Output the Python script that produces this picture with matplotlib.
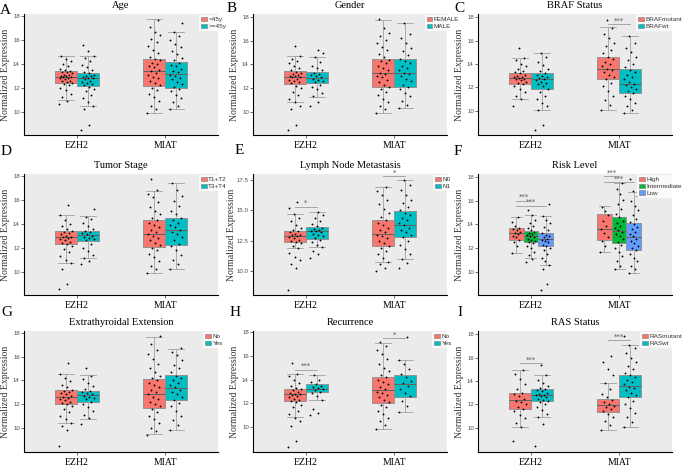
import matplotlib
matplotlib.use('Agg')
import matplotlib.pyplot as plt
from matplotlib.patches import Patch
import numpy as np

SERIF = 'Liberation Serif'
SANS = 'Liberation Sans'

genes = ['EZH2', 'MIAT']
RED, CYAN, GREEN, BLUE = '#F8766D', '#00BFC4', '#00BA38', '#619CFF'

# ---------------- data (box stats: whisker low, Q1, median, Q3, whisker high) ----------------
# order of boxes: EZH2-level1, EZH2-level2(, EZH2-level3), MIAT-level1, MIAT-level2(, MIAT-level3)
age_levels = ['<45y', '>=45y']
age_box = [[10.94, 12.42, 12.94, 13.44, 14.70], [10.50, 12.14, 12.78, 13.22, 14.70],
           [9.86, 12.17, 13.39, 14.44, 17.72], [10.22, 11.97, 13.11, 14.14, 16.69]]
age_points = [
    [10.6, 10.9, 11.2, 11.5, 11.8, 12.0, 12.2, 12.3, 12.4, 12.5, 12.6, 12.6, 12.7, 12.8, 12.8, 12.9, 12.9, 13.0, 13.0, 13.1, 13.1, 13.2, 13.3, 13.3, 13.4, 13.5, 13.6, 13.8, 14.0, 14.2, 14.4, 14.7],
    [8.5, 8.9, 10.2, 10.5, 10.8, 11.1, 11.4, 11.7, 11.9, 12.1, 12.2, 12.3, 12.4, 12.5, 12.6, 12.7, 12.8, 12.8, 12.9, 13.0, 13.0, 13.1, 13.2, 13.3, 13.5, 13.7, 13.9, 14.2, 14.5, 14.7, 15.1, 15.6],
    [9.9, 10.2, 10.5, 10.9, 11.2, 11.5, 11.8, 12.0, 12.2, 12.4, 12.6, 12.8, 12.9, 13.1, 13.2, 13.4, 13.5, 13.7, 13.8, 14.0, 14.1, 14.3, 14.4, 14.6, 14.9, 15.2, 15.5, 15.8, 16.1, 16.4, 16.7, 17.1, 17.7],
    [10.2, 10.5, 10.8, 11.1, 11.4, 11.7, 11.9, 12.1, 12.3, 12.5, 12.7, 12.8, 13.0, 13.1, 13.3, 13.4, 13.6, 13.8, 13.9, 14.1, 14.3, 14.5, 14.8, 15.1, 15.4, 15.7, 16.0, 16.3, 16.7, 17.4]]
age_sig = []

gender_levels = ['FEMALE', 'MALE']
gender_box = [[10.80, 12.36, 12.94, 13.42, 14.70], [11.25, 12.42, 12.89, 13.36, 14.60],
              [9.86, 12.11, 13.31, 14.42, 17.75], [10.28, 12.11, 13.31, 14.42, 17.47]]
gender_points = [
    [8.5, 8.9, 10.2, 10.5, 10.8, 11.1, 11.4, 11.7, 12.0, 12.2, 12.4, 12.5, 12.6, 12.7, 12.8, 12.9, 12.9, 13.0, 13.0, 13.1, 13.2, 13.3, 13.4, 13.5, 13.7, 13.9, 14.1, 14.3, 14.5, 14.7, 15.6],
    [10.5, 10.8, 11.3, 11.6, 11.9, 12.1, 12.3, 12.5, 12.6, 12.7, 12.8, 12.9, 13.0, 13.1, 13.2, 13.3, 13.5, 13.7, 13.9, 14.2, 14.6, 15.0, 15.2],
    [9.9, 10.2, 10.5, 10.8, 11.1, 11.4, 11.7, 11.9, 12.1, 12.3, 12.5, 12.7, 12.9, 13.0, 13.2, 13.3, 13.5, 13.7, 13.9, 14.1, 14.3, 14.4, 14.6, 14.9, 15.2, 15.5, 15.8, 16.1, 16.4, 16.7, 17.1, 17.8],
    [10.3, 10.6, 10.9, 11.3, 11.6, 11.9, 12.1, 12.3, 12.6, 12.8, 13.0, 13.2, 13.3, 13.5, 13.7, 13.9, 14.1, 14.3, 14.5, 14.8, 15.1, 15.4, 15.8, 16.2, 16.6, 17.5]]
gender_sig = []

braf_levels = ['BRAFmutant', 'BRAFwt']
braf_box = [[10.97, 12.31, 12.78, 13.22, 14.53], [10.06, 11.86, 12.69, 13.19, 14.94],
            [10.06, 12.69, 13.61, 14.56, 17.14], [9.81, 11.56, 12.28, 13.56, 16.39]]
braf_points = [
    [10.4, 11.0, 11.3, 11.6, 11.9, 12.1, 12.3, 12.4, 12.5, 12.6, 12.7, 12.7, 12.8, 12.9, 12.9, 13.0, 13.1, 13.2, 13.3, 13.4, 13.6, 13.8, 14.0, 14.3, 14.5, 15.4],
    [8.4, 8.8, 10.1, 10.4, 10.7, 11.0, 11.3, 11.6, 11.9, 12.1, 12.3, 12.4, 12.5, 12.6, 12.7, 12.8, 12.9, 13.0, 13.1, 13.2, 13.4, 13.6, 13.9, 14.2, 14.6, 14.9],
    [10.1, 10.5, 10.9, 11.3, 11.7, 12.1, 12.4, 12.7, 12.9, 13.1, 13.3, 13.5, 13.6, 13.8, 14.0, 14.2, 14.4, 14.6, 14.9, 15.2, 15.5, 15.8, 16.2, 16.6, 17.1, 17.8],
    [9.8, 10.1, 10.4, 10.7, 11.0, 11.3, 11.5, 11.7, 11.9, 12.0, 12.2, 12.3, 12.5, 12.7, 12.9, 13.1, 13.3, 13.5, 13.7, 14.0, 14.3, 14.6, 15.0, 15.4, 15.8, 16.4]]
braf_sig = [[1, 0, 1, 17.42, '***']]

stage_levels = ['T1+T2', 'T3+T4']
stage_box = [[10.72, 12.29, 12.90, 13.37, 14.69], [11.13, 12.57, 13.03, 13.37, 14.61],
             [9.89, 12.07, 13.12, 14.30, 16.76], [10.22, 12.23, 13.45, 14.52, 17.39]]
stage_points = [
    [8.5, 9.0, 10.2, 10.7, 11.0, 11.3, 11.6, 11.9, 12.1, 12.3, 12.4, 12.5, 12.6, 12.7, 12.8, 12.9, 12.9, 13.0, 13.1, 13.2, 13.3, 13.4, 13.6, 13.8, 14.0, 14.3, 14.7, 15.6],
    [10.6, 10.9, 11.1, 11.4, 11.7, 12.0, 12.3, 12.6, 12.7, 12.8, 12.9, 13.0, 13.1, 13.2, 13.3, 13.4, 13.6, 13.8, 14.1, 14.4, 14.6, 15.2],
    [9.9, 10.2, 10.5, 10.9, 11.2, 11.5, 11.8, 12.0, 12.2, 12.4, 12.6, 12.8, 13.0, 13.1, 13.3, 13.5, 13.7, 13.9, 14.1, 14.3, 14.5, 14.8, 15.1, 15.4, 15.8, 16.2, 16.5, 16.8, 17.7],
    [10.2, 10.6, 11.0, 11.4, 11.8, 12.1, 12.3, 12.6, 12.9, 13.1, 13.3, 13.5, 13.7, 13.9, 14.1, 14.3, 14.5, 14.8, 15.1, 15.5, 15.9, 16.3, 16.8, 17.4]]
stage_sig = []

lymph_levels = ['N0', 'N1']
lymph_box = [[11.88, 12.39, 12.92, 13.35, 14.69], [11.96, 12.68, 13.29, 13.64, 14.85],
             [10.75, 12.09, 13.08, 14.23, 16.91], [11.02, 12.81, 13.83, 14.93, 17.55]]
lymph_points = [
    [8.5, 10.3, 10.6, 10.9, 11.2, 11.5, 11.9, 12.1, 12.3, 12.4, 12.5, 12.6, 12.7, 12.8, 12.9, 13.0, 13.0, 13.1, 13.2, 13.3, 13.4, 13.6, 13.8, 14.1, 14.4, 14.7, 15.2, 15.7],
    [11.1, 11.4, 11.7, 12.0, 12.2, 12.4, 12.6, 12.7, 12.9, 13.0, 13.1, 13.2, 13.3, 13.3, 13.4, 13.5, 13.6, 13.7, 13.9, 14.1, 14.4, 14.6, 14.9],
    [10.0, 10.3, 10.6, 10.8, 11.1, 11.4, 11.7, 11.9, 12.1, 12.3, 12.5, 12.7, 12.9, 13.0, 13.2, 13.4, 13.6, 13.8, 14.0, 14.2, 14.5, 14.8, 15.1, 15.5, 15.9, 16.3, 16.6, 16.9],
    [10.3, 10.7, 11.0, 11.4, 11.8, 12.2, 12.5, 12.8, 13.0, 13.2, 13.4, 13.6, 13.8, 14.0, 14.2, 14.4, 14.6, 14.8, 15.0, 15.3, 15.6, 15.9, 16.3, 16.7, 17.1, 17.5]]
lymph_sig = [[0, 0, 1, 15.30, '*'], [1, 0, 1, 17.82, '*']]

risk_levels = ['High', 'Intermediate', 'Low']
risk_box = [[11.60, 12.70, 13.31, 13.72, 14.63], [11.13, 12.48, 13.03, 13.45, 14.83], [10.58, 12.15, 12.76, 13.31, 14.72],
            [11.68, 12.65, 13.59, 14.86, 15.54], [10.22, 12.43, 13.48, 14.61, 17.53], [9.89, 11.88, 12.90, 14.14, 16.76]]
risk_points = [
    [11.6, 12.2, 12.5, 12.7, 12.9, 13.0, 13.2, 13.3, 13.4, 13.5, 13.6, 13.7, 13.9, 14.2, 14.6],
    [10.8, 11.1, 11.4, 11.7, 12.0, 12.2, 12.4, 12.5, 12.6, 12.7, 12.8, 12.9, 13.0, 13.1, 13.2, 13.3, 13.4, 13.5, 13.7, 13.9, 14.1, 14.4, 14.8, 15.2],
    [8.5, 9.0, 10.2, 10.6, 10.9, 11.2, 11.5, 11.8, 12.0, 12.2, 12.3, 12.5, 12.6, 12.7, 12.8, 12.9, 13.0, 13.1, 13.3, 13.5, 13.8, 14.1, 14.4, 14.7, 15.7],
    [11.7, 12.2, 12.6, 12.9, 13.3, 13.6, 13.9, 14.3, 14.8, 15.1, 15.5],
    [10.2, 10.5, 10.9, 11.3, 11.7, 12.0, 12.3, 12.5, 12.8, 13.0, 13.2, 13.4, 13.5, 13.7, 13.9, 14.1, 14.3, 14.6, 14.9, 15.3, 15.7, 16.1, 16.6, 17.0, 17.5],
    [9.9, 10.2, 10.5, 10.9, 11.2, 11.5, 11.8, 12.0, 12.2, 12.4, 12.6, 12.8, 13.0, 13.2, 13.4, 13.6, 13.8, 14.0, 14.2, 14.5, 14.8, 15.2, 15.6, 16.0, 16.4, 16.8, 17.8]]
risk_sig = [[0, 0, 1, 16.01, '***'], [0, 0, 2, 15.60, '***'], [1, 0, 1, 18.08, '***'], [1, 0, 2, 17.59, '***']]

ete_levels = ['No', 'Yes']
ete_box = [[10.36, 12.00, 12.61, 13.14, 14.50], [10.75, 12.17, 12.78, 13.08, 14.42],
           [9.44, 11.64, 12.83, 14.11, 17.69], [9.83, 12.31, 13.33, 14.42, 16.67]]
ete_points = [
    [8.4, 9.8, 10.1, 10.4, 10.7, 11.0, 11.3, 11.6, 11.8, 12.0, 12.1, 12.2, 12.3, 12.4, 12.5, 12.6, 12.7, 12.8, 12.9, 13.0, 13.1, 13.2, 13.4, 13.6, 13.9, 14.2, 14.5, 15.5],
    [10.3, 10.8, 11.1, 11.4, 11.7, 12.0, 12.2, 12.4, 12.5, 12.6, 12.7, 12.8, 12.9, 13.0, 13.1, 13.3, 13.5, 13.8, 14.1, 14.4, 15.0],
    [9.4, 9.7, 10.0, 10.4, 10.7, 11.0, 11.3, 11.6, 11.8, 12.0, 12.2, 12.4, 12.6, 12.8, 13.0, 13.2, 13.4, 13.6, 13.8, 14.0, 14.2, 14.4, 14.7, 15.0, 15.4, 15.8, 16.2, 16.6, 17.1, 17.7],
    [9.8, 10.2, 10.6, 11.0, 11.4, 11.8, 12.1, 12.3, 12.6, 12.8, 13.0, 13.2, 13.4, 13.6, 13.8, 14.0, 14.2, 14.4, 14.7, 15.0, 15.3, 15.7, 16.1, 16.4, 16.7]]
ete_sig = []

recur_levels = ['No', 'Yes']
recur_box = [[10.83, 12.22, 12.78, 13.19, 14.50], [12.33, 13.00, 13.25, 13.61, 14.39],
             [9.86, 12.03, 13.11, 14.22, 17.08], [11.28, 12.58, 13.61, 14.39, 15.61]]
recur_points = [
    [8.4, 8.9, 10.1, 10.5, 10.8, 11.1, 11.4, 11.7, 11.9, 12.1, 12.2, 12.3, 12.4, 12.5, 12.6, 12.7, 12.8, 12.8, 12.9, 13.0, 13.1, 13.2, 13.3, 13.5, 13.7, 14.0, 14.3, 14.5, 15.4],
    [11.0, 11.2, 11.5, 12.3, 12.6, 12.9, 13.0, 13.1, 13.2, 13.3, 13.4, 13.5, 13.6, 13.8, 14.0, 14.4],
    [9.9, 10.2, 10.5, 10.8, 11.1, 11.4, 11.7, 11.9, 12.1, 12.3, 12.5, 12.7, 12.9, 13.0, 13.2, 13.4, 13.6, 13.8, 14.0, 14.2, 14.4, 14.7, 15.0, 15.3, 15.7, 16.1, 16.5, 16.8, 17.1],
    [11.3, 11.8, 12.2, 12.6, 12.9, 13.2, 13.5, 13.7, 13.9, 14.2, 14.5, 14.9, 15.3, 15.6, 17.6]]
recur_sig = [[0, 0, 1, 14.81, '***'], [1, 0, 1, 17.44, '*']]

ras_levels = ['RASmutant', 'RASwt']
ras_box = [[10.08, 11.58, 12.36, 13.00, 14.92], [10.94, 12.31, 12.83, 13.28, 14.47],
           [9.83, 11.33, 11.94, 12.47, 13.83], [10.08, 12.61, 13.56, 14.50, 17.08]]
ras_points = [
    [8.9, 10.1, 10.4, 10.8, 11.1, 11.4, 11.6, 11.8, 12.0, 12.2, 12.3, 12.5, 12.7, 12.9, 13.0, 13.3, 13.7, 14.2, 14.6, 14.9],
    [8.4, 10.3, 10.9, 11.2, 11.5, 11.8, 12.0, 12.2, 12.3, 12.4, 12.5, 12.6, 12.7, 12.8, 12.8, 12.9, 13.0, 13.1, 13.2, 13.3, 13.4, 13.6, 13.8, 14.1, 14.5, 15.4],
    [9.8, 10.2, 10.6, 10.9, 11.2, 11.4, 11.6, 11.8, 11.9, 12.0, 12.2, 12.4, 12.6, 12.9, 13.3, 13.8, 14.5, 15.0, 15.6, 16.1],
    [10.1, 10.5, 10.9, 11.3, 11.7, 12.0, 12.3, 12.6, 12.8, 13.0, 13.2, 13.4, 13.5, 13.7, 13.9, 14.1, 14.3, 14.5, 14.7, 15.0, 15.3, 15.6, 16.0, 16.4, 16.8, 17.1, 17.8]]
ras_sig = [[0, 0, 1, 15.50, '***'], [1, 0, 1, 17.50, '***']]

titles = ['Age', 'Gender', 'BRAF Status', 'Tumor Stage', 'Lymph Node Metastasis', 'Risk Level',
          'Extrathyroidal Extension', 'Recurrence', 'RAS Status']
letters = ['A', 'B', 'C', 'D', 'E', 'F', 'G', 'H', 'I']
yticks_std = [10, 12, 14, 16, 18]
yticks_lymph = [10.0, 12.5, 15.0, 17.5]

panels = [
    (age_levels, age_box, age_points, age_sig, yticks_std, '%d'),
    (gender_levels, gender_box, gender_points, gender_sig, yticks_std, '%d'),
    (braf_levels, braf_box, braf_points, braf_sig, yticks_std, '%d'),
    (stage_levels, stage_box, stage_points, stage_sig, yticks_std, '%d'),
    (lymph_levels, lymph_box, lymph_points, lymph_sig, yticks_lymph, '%.1f'),
    (risk_levels, risk_box, risk_points, risk_sig, yticks_std, '%d'),
    (ete_levels, ete_box, ete_points, ete_sig, yticks_std, '%d'),
    (recur_levels, recur_box, recur_points, recur_sig, yticks_std, '%d'),
    (ras_levels, ras_box, ras_points, ras_sig, yticks_std, '%d'),
]

# ---------------- layout ----------------
W, H = 685, 466
fig = plt.figure(figsize=(W / 100, H / 100), dpi=100)
col_left = [24, 253, 478]
row_top = [14, 174, 331]
ax_w, ax_h = 194, 121
letter_xy = [(5, 10), (232, 9), (459, 8), (6, 152), (239, 151), (458, 152), (7, 312), (235, 313), (460, 312)]

DODGE = 0.5


def box_pos(gi, li, n):
    bw = DODGE / n
    return gi + 1 - DODGE / 2 + bw * (li + 0.5)


for k, (levels, box, points, sig, yticks, yfmt) in enumerate(panels):
    r, c = divmod(k, 3)
    l, t = col_left[c], row_top[r]
    ax = fig.add_axes([l / W, 1 - (t + ax_h) / H, ax_w / W, ax_h / H])
    ax.set_facecolor('#EBEBEB')
    n = len(levels)
    bw = DODGE / n
    colors = [RED, CYAN] if n == 2 else [RED, GREEN, BLUE]
    allv = []
    for gi in range(len(genes)):
        for li in range(n):
            idx = gi * n + li
            pos = box_pos(gi, li, n)
            wl, q1, med, q3, wh = box[idx]
            stats = [dict(whislo=wl, q1=q1, med=med, q3=q3, whishi=wh, fliers=[])]
            ax.bxp(stats, positions=[pos], widths=bw, patch_artist=True, showfliers=False,
                   capwidths=bw * 0.75, manage_ticks=False,
                   boxprops=dict(facecolor=colors[li], edgecolor='#8c8c8c', linewidth=0.6),
                   whiskerprops=dict(color='#a0a0a0', linewidth=0.6),
                   capprops=dict(color='#a0a0a0', linewidth=0.6),
                   medianprops=dict(color='#606060', linewidth=0.7))
            vals = np.asarray(points[idx], dtype=float)
            m = len(vals)
            offs = (((np.arange(m) * 0.618034) % 1.0) - 0.5) * bw * 0.6
            ax.scatter(pos + offs, vals, s=1.8, c='black', linewidths=0, zorder=4)
            allv.extend(list(vals) + [wl, wh])
    lo, hi = min(allv), max(allv)
    ex = (hi - lo) * 0.05
    ax.set_ylim(lo - ex, hi + ex)
    ax.set_xlim(0.4, 2.6)

    for gi, la, lb, y, lab in sig:
        x1, x2 = box_pos(gi, la, n), box_pos(gi, lb, n)
        ax.plot([x1, x2], [y, y], color='#9a9a9a', lw=0.6, clip_on=False, zorder=5)
        ax.annotate(lab, xy=((x1 + x2) / 2, y), xytext=(0, 2.6), textcoords='offset points',
                    ha='center', va='center', fontsize=5, color='#555555', annotation_clip=False)

    ax.set_yticks(yticks)
    ax.set_yticklabels([yfmt % v for v in yticks], fontsize=4.4, family=SANS, color='#4d4d4d')
    ax.set_xticks([1, 2])
    ax.set_xticklabels(genes, fontsize=7, family=SERIF, color='black')
    ax.tick_params(axis='y', length=2, width=0.5, pad=1, color='#333333')
    ax.tick_params(axis='x', length=2, width=0.5, pad=2, color='#333333')
    for s in ['top', 'right']:
        ax.spines[s].set_visible(False)
    for s in ['left', 'bottom']:
        ax.spines[s].set_linewidth(0.8)
        ax.spines[s].set_color('black')
    ax.set_ylabel('Normalized Expression', fontsize=7, family=SERIF, color='#333333')
    ax.yaxis.set_label_coords(-0.088 if yfmt == '%.1f' else -0.072, 0.5)
    ax.text(0.5, 1 + 8.5 / ax_h, titles[k], transform=ax.transAxes, ha='center', va='center',
            fontsize=7.5, family=SERIF)

    handles = [Patch(facecolor=colors[i], edgecolor='#777777', linewidth=0.4) for i in range(n)]
    if c == 2:
        lloc, lx_px = 'upper right', 684
    else:
        lloc, lx_px = 'upper center', l + ax_w - 4
    leg = ax.legend(handles, levels, loc=lloc,
                    bbox_to_anchor=(lx_px / W, 1 - (t + 1) / H),
                    bbox_transform=fig.transFigure, frameon=True, fancybox=False,
                    borderpad=0.3, labelspacing=0.2, handlelength=0.9, handleheight=0.7,
                    handletextpad=0.25, borderaxespad=0, prop={'family': SANS, 'size': 4.6})
    leg.get_frame().set_facecolor('white')
    leg.get_frame().set_edgecolor('white')
    leg.get_frame().set_linewidth(0)
    for txt in leg.get_texts():
        txt.set_color('#333333')

    lx, ly = letter_xy[k]
    fig.text(lx / W, 1 - ly / H, letters[k], ha='center', va='center', fontsize=11, family=SERIF)

fig.savefig('out.png', dpi=100)
